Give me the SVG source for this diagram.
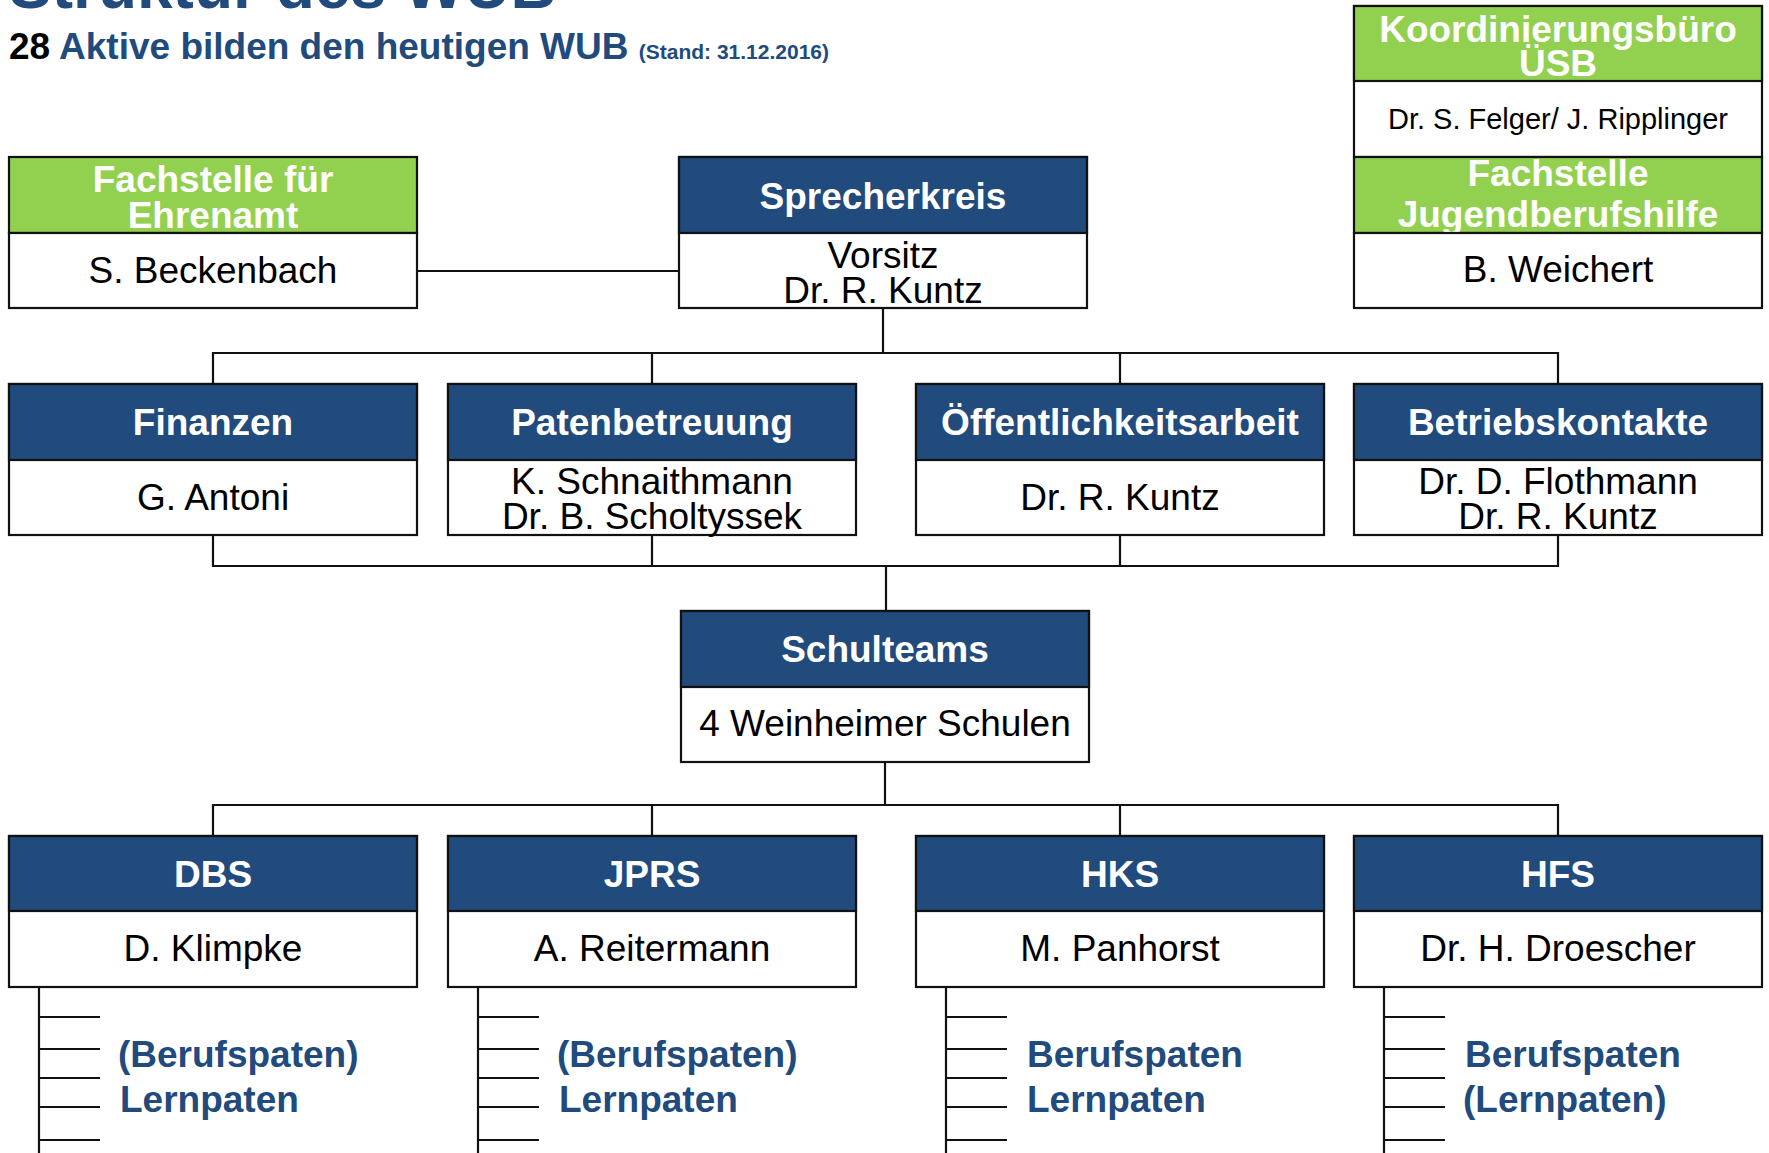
<svg xmlns="http://www.w3.org/2000/svg" width="1769" height="1153" viewBox="0 0 1769 1153">
<style>
.bg{fill:#ffffff}
.box{fill:#ffffff;stroke:#111111;stroke-width:2.2}
.hb{fill:#214A7D;stroke:#111111;stroke-width:2.2}
.hg{fill:#92D050;stroke:#111111;stroke-width:2.2}
.ht{font-family:"Liberation Sans",Arial,sans-serif;font-weight:bold;font-size:37px;fill:#ffffff;text-anchor:middle}
.bt{font-family:"Liberation Sans",Arial,sans-serif;font-size:37px;fill:#000000;text-anchor:middle}
.sm{font-size:29px}
.st{font-family:"Liberation Sans",Arial,sans-serif;font-weight:bold;font-size:37px;fill:#214A7D}
.ln{fill:none;stroke:#111111;stroke-width:2.2}
</style>
<rect class="bg" x="0" y="0" width="1769" height="1153"/>
<g id="title">
<text x="9" y="8" font-family="Liberation Sans, Arial, sans-serif" font-weight="bold" font-size="64" fill="#214A7D">Struktur des WUB</text>
<text x="9" y="59" font-family="Liberation Sans, Arial, sans-serif" font-weight="bold" font-size="37" fill="#000000">28 <tspan fill="#214A7D">Aktive bilden den heutigen WUB</tspan> <tspan fill="#214A7D" font-size="21">(Stand: 31.12.2016)</tspan></text>
</g>
<g id="connectors">
<path class="ln" d="M417,271 H679"/>
<path class="ln" d="M883,308 V353 M213,384 V353 H1558 V384 M652,353 V384 M1120,353 V384"/>
<path class="ln" d="M213,535 V566 H1558 V535 M652,535 V566 M1120,535 V566 M886,566 V611"/>
<path class="ln" d="M885,762 V805 M213,836 V805 H1558 V836 M652,805 V836 M1120,805 V836"/>
<path class="ln" d="M39,987 V1153 M39,1017 H100 M39,1049 H100 M39,1078 H100 M39,1107 H100 M39,1140 H100"/>
<path class="ln" d="M478,987 V1153 M478,1017 H539 M478,1049 H539 M478,1078 H539 M478,1107 H539 M478,1140 H539"/>
<path class="ln" d="M946,987 V1153 M946,1017 H1007 M946,1049 H1007 M946,1078 H1007 M946,1107 H1007 M946,1140 H1007"/>
<path class="ln" d="M1384,987 V1153 M1384,1017 H1445 M1384,1049 H1445 M1384,1078 H1445 M1384,1107 H1445 M1384,1140 H1445"/>
</g>
<g id="koordinierungsbuero">
<rect class="box" x="1354" y="6" width="408" height="151"/>
<rect class="hg" x="1354" y="6" width="408" height="75"/>
<text class="ht" x="1558" y="42">Koordinierungsbüro</text>
<text class="ht" x="1558" y="76">ÜSB</text>
<text class="bt sm" x="1558" y="129">Dr. S. Felger/ J. Ripplinger</text>
</g>
<g id="fachstelle-ehrenamt">
<rect class="hg" x="9" y="157" width="408" height="76"/>
<text class="ht" x="213" y="192">Fachstelle für</text>
<text class="ht" x="213" y="228">Ehrenamt</text>
<rect class="box" x="9" y="233" width="408" height="75"/>
<text class="bt" x="213" y="283">S. Beckenbach</text>
</g>
<g id="sprecherkreis">
<rect class="box" x="679" y="157" width="408" height="151"/>
<rect class="hb" x="679" y="157" width="408" height="76"/>
<text class="ht" x="883" y="209">Sprecherkreis</text>
<text class="bt" x="883" y="268">Vorsitz</text>
<text class="bt" x="883" y="303">Dr. R. Kuntz</text>
</g>
<g id="fachstelle-jugendberufshilfe">
<rect class="hg" x="1354" y="157" width="408" height="76"/>
<text class="ht" x="1558" y="186">Fachstelle</text>
<text class="ht" x="1558" y="227">Jugendberufshilfe</text>
<rect class="box" x="1354" y="233" width="408" height="75"/>
<text class="bt" x="1558" y="282">B. Weichert</text>
</g>
<g id="finanzen">
<rect class="box" x="9" y="384" width="408" height="151"/>
<rect class="hb" x="9" y="384" width="408" height="76"/>
<text class="ht" x="213" y="435">Finanzen</text>
<text class="bt" x="213" y="510">G. Antoni</text>
</g>
<g id="patenbetreuung">
<rect class="box" x="448" y="384" width="408" height="151"/>
<rect class="hb" x="448" y="384" width="408" height="76"/>
<text class="ht" x="652" y="435">Patenbetreuung</text>
<text class="bt" x="652" y="494">K. Schnaithmann</text>
<text class="bt" x="652" y="529">Dr. B. Scholtyssek</text>
</g>
<g id="oeffentlichkeitsarbeit">
<rect class="box" x="916" y="384" width="408" height="151"/>
<rect class="hb" x="916" y="384" width="408" height="76"/>
<text class="ht" x="1120" y="435">Öffentlichkeitsarbeit</text>
<text class="bt" x="1120" y="510">Dr. R. Kuntz</text>
</g>
<g id="betriebskontakte">
<rect class="box" x="1354" y="384" width="408" height="151"/>
<rect class="hb" x="1354" y="384" width="408" height="76"/>
<text class="ht" x="1558" y="435">Betriebskontakte</text>
<text class="bt" x="1558" y="494">Dr. D. Flothmann</text>
<text class="bt" x="1558" y="529">Dr. R. Kuntz</text>
</g>
<g id="schulteams">
<rect class="box" x="681" y="611" width="408" height="151"/>
<rect class="hb" x="681" y="611" width="408" height="76"/>
<text class="ht" x="885" y="662">Schulteams</text>
<text class="bt" x="885" y="736">4 Weinheimer Schulen</text>
</g>
<g id="dbs">
<rect class="box" x="9" y="836" width="408" height="151"/>
<rect class="hb" x="9" y="836" width="408" height="75"/>
<text class="ht" x="213" y="887">DBS</text>
<text class="bt" x="213" y="961">D. Klimpke</text>
<text class="st" x="118" y="1067">(Berufspaten)</text>
<text class="st" x="120" y="1112">Lernpaten</text>
</g>
<g id="jprs">
<rect class="box" x="448" y="836" width="408" height="151"/>
<rect class="hb" x="448" y="836" width="408" height="75"/>
<text class="ht" x="652" y="887">JPRS</text>
<text class="bt" x="652" y="961">A. Reitermann</text>
<text class="st" x="557" y="1067">(Berufspaten)</text>
<text class="st" x="559" y="1112">Lernpaten</text>
</g>
<g id="hks">
<rect class="box" x="916" y="836" width="408" height="151"/>
<rect class="hb" x="916" y="836" width="408" height="75"/>
<text class="ht" x="1120" y="887">HKS</text>
<text class="bt" x="1120" y="961">M. Panhorst</text>
<text class="st" x="1027" y="1067">Berufspaten</text>
<text class="st" x="1027" y="1112">Lernpaten</text>
</g>
<g id="hfs">
<rect class="box" x="1354" y="836" width="408" height="151"/>
<rect class="hb" x="1354" y="836" width="408" height="75"/>
<text class="ht" x="1558" y="887">HFS</text>
<text class="bt" x="1558" y="961">Dr. H. Droescher</text>
<text class="st" x="1465" y="1067">Berufspaten</text>
<text class="st" x="1463" y="1112">(Lernpaten)</text>
</g>
</svg>
